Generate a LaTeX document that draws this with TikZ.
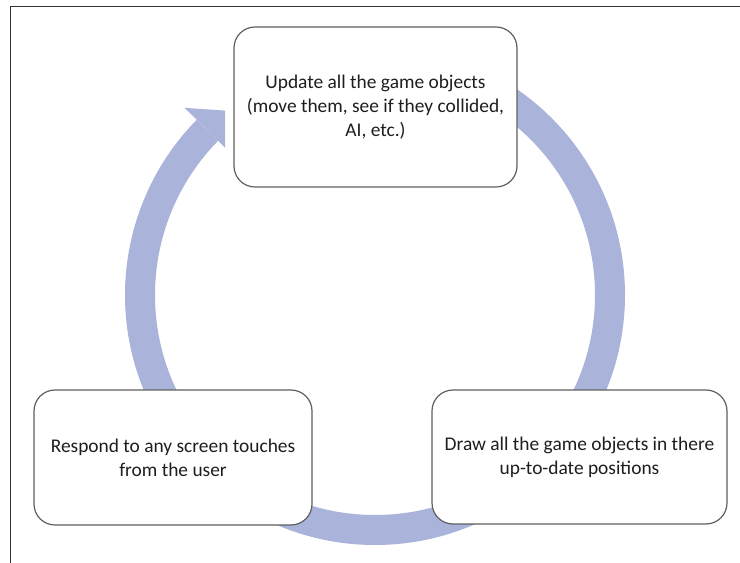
\documentclass[tikz,border=0pt]{standalone}
\usepackage{fontspec}
\setmainfont{Carlito}
\usetikzlibrary{calc}
\definecolor{ringblue}{RGB}{170,179,217}
\definecolor{boxline}{RGB}{95,95,95}
\definecolor{textgray}{RGB}{30,30,30}
\begin{document}
\begin{tikzpicture}[x=1pt, y=1pt, line join=round,
    font=\fontsize{19.4}{24}\selectfont,
    task/.style={draw=boxline, line width=1.2pt, fill=white, rounded corners=21pt,
      align=center, text=textgray}]
    \useasboundingbox (0,0) rectangle (740,563);
    \draw[black!80, line width=1pt] (10.5,0) -- (10.5,556.5) -- (740,556.5);
    \path (375,268) coordinate (O);
    % the cycle ring, clockwise from the top
    \draw[ringblue, line width=30pt] (O) ++(90:235) arc[start angle=90, end angle=-224.5, radius=235];
    % head of the ring, its tip runs under the top box
    \begin{scope}
        \clip (0,0) rectangle (225,563);
        \fill[ringblue] ($(O)+(135.5:267)$) -- ($(O)+(121:212)$) -- ($(O)+(135.5:203)$) -- cycle;
    \end{scope}
    \node[task, minimum width=283pt, minimum height=160pt] (update) at (375.5,456)
        {Update all the game objects\\(move them, see if they collided,\\AI, etc.)};
    \node[task, minimum width=278pt, minimum height=135pt] (respond) at (173,105.5)
        {Respond to any screen touches\\from the user};
    \node[task, minimum width=295pt, minimum height=134pt] (redraw) at (579.5,106)
        {Draw all the game objects in there\\up-to-date positions};
\end{tikzpicture}
\end{document}
